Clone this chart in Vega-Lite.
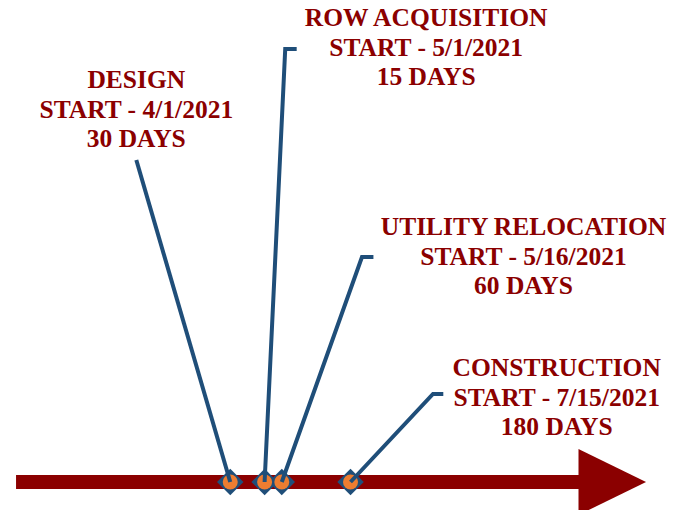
{
  "$schema": "https://vega.github.io/schema/vega-lite/v6.json",
  "width": 685,
  "height": 510,
  "padding": 0,
  "autosize": {"type": "fit", "contains": "padding"},
  "background": "white",
  "config": {"view": {"stroke": null}},
  "datasets": {
    "shaft": [{"date": "2020-09-26", "date2": "2022-01-31", "lo": 21, "hi": 35}],
    "head": [
      {"date": "2022-01-30", "top": 61, "bot": -5},
      {"date": "2022-03-30", "top": 28, "bot": 28}
    ],
    "milestones": [
      {"task": "Design", "date": "2021-04-01", "days": 30, "level": 28},
      {"task": "ROW Acquisition", "date": "2021-05-01", "days": 15, "level": 28},
      {"task": "Utility Relocation", "date": "2021-05-16", "days": 60, "level": 28},
      {"task": "Construction", "date": "2021-07-15", "days": 180, "level": 28}
    ],
    "leaders": [
      {"task": "Design", "seq": 1, "date": "2021-04-01", "level": 28},
      {"task": "Design", "seq": 2, "date": "2021-01-09", "level": 350},
      {"task": "ROW Acquisition", "seq": 1, "date": "2021-05-01", "level": 28},
      {"task": "ROW Acquisition", "seq": 2, "date": "2021-05-19", "level": 461},
      {"task": "ROW Acquisition", "seq": 3, "date": "2021-05-29", "level": 461},
      {"task": "Utility Relocation", "seq": 1, "date": "2021-05-16", "level": 28},
      {"task": "Utility Relocation", "seq": 2, "date": "2021-07-25", "level": 253},
      {"task": "Utility Relocation", "seq": 3, "date": "2021-08-04", "level": 253},
      {"task": "Construction", "seq": 1, "date": "2021-07-15", "level": 28},
      {"task": "Construction", "seq": 2, "date": "2021-09-25", "level": 116},
      {"task": "Construction", "seq": 3, "date": "2021-10-04", "level": 116}
    ],
    "labels": [
      {"task": "Design", "date": "2021-01-09", "level": 422, "lines": ["DESIGN", "START - 4/1/2021", "30 DAYS"]},
      {"task": "ROW Acquisition", "date": "2021-09-19", "level": 484, "lines": ["ROW ACQUISITION", "START - 5/1/2021", "15 DAYS"]},
      {"task": "Utility Relocation", "date": "2021-12-13", "level": 275, "lines": ["UTILITY RELOCATION", "START - 5/16/2021", "60 DAYS"]},
      {"task": "Construction", "date": "2022-01-11", "level": 134, "lines": ["CONSTRUCTION", "START - 7/15/2021", "180 DAYS"]}
    ]
  },
  "encoding": {
    "x": {
      "field": "date",
      "type": "temporal",
      "axis": null,
      "scale": {
        "type": "utc",
        "domain": [
          {"year": 2020, "month": 9, "date": 12, "utc": true},
          {"year": 2022, "month": 5, "date": 3, "utc": true}
        ],
        "nice": false
      }
    }
  },
  "layer": [
    {
      "data": {"name": "shaft"},
      "mark": {"type": "rect", "color": "#8B0000"},
      "encoding": {
        "x2": {"field": "date2"},
        "y": {"field": "lo", "type": "quantitative", "axis": null, "scale": {"domain": [0, 510], "nice": false, "zero": false}},
        "y2": {"field": "hi"}
      }
    },
    {
      "data": {"name": "head"},
      "mark": {"type": "area", "color": "#8B0000", "clip": true, "orient": "vertical"},
      "encoding": {
        "y": {"field": "top", "type": "quantitative", "axis": null},
        "y2": {"field": "bot"}
      }
    },
    {
      "data": {"name": "milestones"},
      "mark": {"type": "point", "shape": "diamond", "filled": true, "size": 700, "color": "#1F4E79", "opacity": 1},
      "encoding": {
        "y": {"field": "level", "type": "quantitative", "axis": null}
      }
    },
    {
      "data": {"name": "milestones"},
      "mark": {"type": "point", "shape": "circle", "filled": true, "size": 225, "color": "#ED7D31", "opacity": 1},
      "encoding": {
        "y": {"field": "level", "type": "quantitative", "axis": null}
      }
    },
    {
      "data": {"name": "leaders"},
      "mark": {"type": "line", "color": "#1F4E79", "strokeWidth": 4, "strokeCap": "butt"},
      "encoding": {
        "y": {"field": "level", "type": "quantitative", "axis": null},
        "detail": {"field": "task"},
        "order": {"field": "seq", "type": "quantitative"}
      }
    },
    {
      "data": {"name": "labels"},
      "mark": {
        "type": "text",
        "font": "Liberation Serif",
        "fontWeight": "bold",
        "fontSize": 25.5,
        "lineHeight": 29.5,
        "color": "#8B0000",
        "align": "center",
        "baseline": "alphabetic"
      },
      "encoding": {
        "y": {"field": "level", "type": "quantitative", "axis": null},
        "text": {"field": "lines"}
      }
    }
  ]
}
